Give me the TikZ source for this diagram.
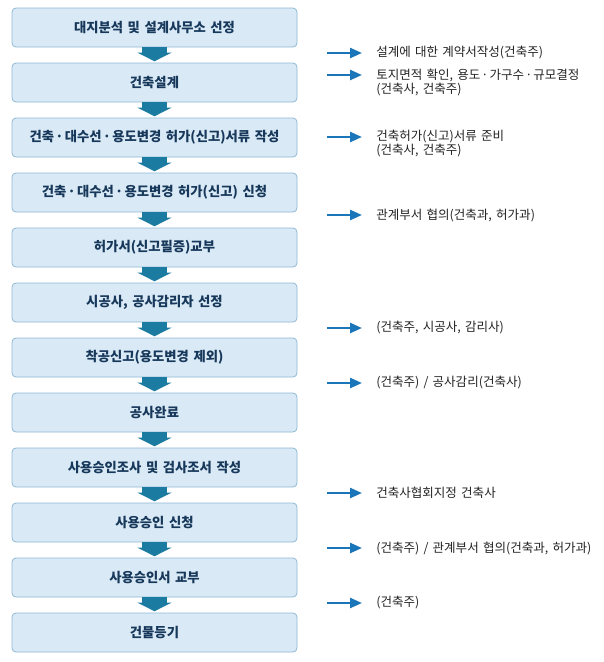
\documentclass[tikz,border=0pt]{standalone}
\usepackage{fontspec}
\setmainfont{Noto Sans CJK KR}[WordSpace=1.5]
\usepackage{xcolor}
\usepackage{tikz}
\usetikzlibrary{arrows.meta}

\definecolor{boxfill}{HTML}{D9EAF6}
\definecolor{boxline}{HTML}{8FB8D4}
\definecolor{boxtext}{HTML}{17385A}
\definecolor{downcol}{HTML}{1C7BA0}
\definecolor{sidecol}{HTML}{1A75B9}
\definecolor{note}{HTML}{222222}
\newcommand\middot{\kern-0.25em·\kern-0.25em}

\begin{document}
\begin{tikzpicture}[x=0.75pt,y=-0.75pt,
        step box/.style={rectangle,rounded corners=3pt,draw=boxline,fill=boxfill,line width=0.6pt,
            minimum width=213.75pt,minimum height=29.25pt,inner sep=0pt,
            text=boxtext,font=\fontsize{10pt}{12pt}\selectfont\bfseries},
        down/.style={draw=downcol,line width=18.75pt,-{Triangle[width=25.5pt,length=6.5pt]},shorten >=1pt},
        side/.style={draw=sidecol,line width=1.8pt,-{Triangle[width=7.5pt,length=9pt]},shorten >=10.5pt},
        memo/.style={anchor=west,align=left,inner sep=0pt,text=note,font=\fontsize{9.4pt}{10.5pt}\selectfont}]
        \useasboundingbox (0,0) rectangle (604,662);
        % steps
        \node[step box] (s1) at (154.5,27.5) {대지분석 및 설계사무소 선정};
        \node[step box] (s2) at (154.5,82.5) {건축설계};
        \node[step box] (s3) at (154.5,137.5) {건축 \middot{} 대수선 \middot{} 용도변경 허가(신고)서류 작성};
        \node[step box] (s4) at (154.5,192.5) {건축 \middot{} 대수선 \middot{} 용도변경 허가(신고) 신청};
        \node[step box] (s5) at (154.5,247.5) {허가서(신고필증)교부};
        \node[step box] (s6) at (154.5,302.5) {시공사, 공사감리자 선정};
        \node[step box] (s7) at (154.5,357.5) {착공신고(용도변경 제외)};
        \node[step box] (s8) at (154.5,412.5) {공사완료};
        \node[step box] (s9) at (154.5,467.5) {사용승인조사 및 검사조서 작성};
        \node[step box] (s10) at (154.5,522.5) {사용승인 신청};
        \node[step box] (s11) at (154.5,577.5) {사용승인서 교부};
        \node[step box] (s12) at (154.5,632.5) {건물등기};
        \draw[down] (s1) -- (s2);
        \draw[down] (s2) -- (s3);
        \draw[down] (s3) -- (s4);
        \draw[down] (s4) -- (s5);
        \draw[down] (s5) -- (s6);
        \draw[down] (s6) -- (s7);
        \draw[down] (s7) -- (s8);
        \draw[down] (s8) -- (s9);
        \draw[down] (s9) -- (s10);
        \draw[down] (s10) -- (s11);
        \draw[down] (s11) -- (s12);
        % notes on the right
        \node[memo] (n1) at (376,53) {설계에 대한 계약서작성(건축주)};
        \node[memo] (n2) at (376,82) {토지면적 확인, 용도 \middot{} 가구수 \middot{} 규모결정\\(건축사, 건축주)};
        \node[memo] (n3) at (376,144) {건축허가(신고)서류 준비\\(건축사, 건축주)};
        \node[memo] (n4) at (376,215) {관계부서 협의(건축과, 허가과)};
        \node[memo] (n5) at (376,328) {(건축주, 시공사, 감리사)};
        \node[memo] (n6) at (376,383) {(건축주) / 공사감리(건축사)};
        \node[memo] (n7) at (376,493) {건축사협회지정 건축사};
        \node[memo] (n8) at (376,548) {(건축주) / 관계부서 협의(건축과, 허가과)};
        \node[memo] (n9) at (376,603) {(건축주)};
        \coordinate (a1) at (327,53);
        \coordinate (a2) at (327,75);
        \coordinate (a3) at (327,137);
        \coordinate (a4) at (327,215);
        \coordinate (a5) at (327,328);
        \coordinate (a6) at (327,383);
        \coordinate (a7) at (327,493);
        \coordinate (a8) at (327,548);
        \coordinate (a9) at (327,603);
        \draw[side] (a1) -- (a1 -| n1.west);
        \draw[side] (a2) -- (a2 -| n2.west);
        \draw[side] (a3) -- (a3 -| n3.west);
        \draw[side] (a4) -- (a4 -| n4.west);
        \draw[side] (a5) -- (a5 -| n5.west);
        \draw[side] (a6) -- (a6 -| n6.west);
        \draw[side] (a7) -- (a7 -| n7.west);
        \draw[side] (a8) -- (a8 -| n8.west);
        \draw[side] (a9) -- (a9 -| n9.west);
\end{tikzpicture}
\end{document}
